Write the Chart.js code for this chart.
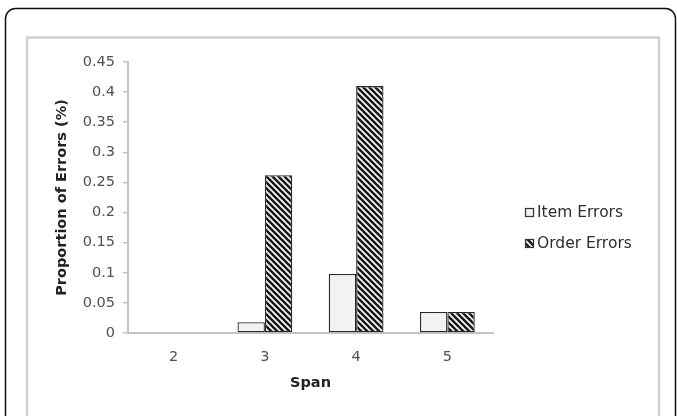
<!DOCTYPE html>
<html>
<head>
<meta charset="utf-8">
<script src="https://cdn.jsdelivr.net/npm/chart.js@4"></script>
<style>
  html, body { margin: 0; padding: 0; background: #fff; }
  #wrap { width: 677px; height: 416px; }
</style>
</head>
<body>
<div id="wrap"><canvas id="chart" width="677" height="416"></canvas></div>
<script>
const categories = ["2", "3", "4", "5"];
const itemErrors = [0, 0.018, 0.098, 0.035];
const orderErrors = [0, 0.262, 0.41, 0.035];
const yTicks = ["0", "0.05", "0.1", "0.15", "0.2", "0.25", "0.3", "0.35", "0.4", "0.45"];
const seriesNames = ["Item Errors", "Order Errors"];

const fontFamily = "'DejaVu Sans', sans-serif";

// diagonal hatch like the excel pattern fill
function makeHatch() {
  const s = 6;
  const c = document.createElement("canvas");
  c.width = s;
  c.height = s;
  const g = c.getContext("2d");
  g.fillStyle = "#ffffff";
  g.fillRect(0, 0, s, s);
  g.strokeStyle = "#1a1a1a";
  g.lineWidth = 2.6;
  g.beginPath();
  for (const off of [-s, 0, s]) {
    g.moveTo(off - 1, -1);
    g.lineTo(off + s + 1, s + 1);
  }
  g.stroke();
  return g.createPattern(c, "repeat");
}

// outer rounded frame + grey inner frame
const framePlugin = {
  id: "frame",
  beforeDraw(chart) {
    const ctx = chart.ctx;
    ctx.save();
    ctx.fillStyle = "#ffffff";
    ctx.fillRect(0, 0, chart.width, chart.height);
    ctx.strokeStyle = "#111111";
    ctx.lineWidth = 1.5;
    ctx.beginPath();
    ctx.roundRect(5.5, 8.5, 670, 430, 10);
    ctx.stroke();
    ctx.strokeStyle = "#d0d0d0";
    ctx.lineWidth = 2.5;
    ctx.strokeRect(27, 37.5, 632, 420);
    ctx.restore();
  }
};

// legend on the right, drawn from the datasets
const sideLegend = {
  id: "sideLegend",
  afterDraw(chart) {
    const ctx = chart.ctx;
    ctx.save();
    ctx.font = "15.5px " + fontFamily;
    ctx.textBaseline = "middle";
    chart.data.datasets.forEach((ds, i) => {
      const y = 212 + i * 31;
      ctx.fillStyle = ds.backgroundColor;
      ctx.fillRect(525, y - 4, 9, 9);
      ctx.strokeStyle = "#333333";
      ctx.lineWidth = 1.2;
      ctx.strokeRect(525.5, y - 3.5, 8, 8);
      ctx.fillStyle = "#2e2e2e";
      ctx.fillText(ds.label, 537, y + 1);
    });
    ctx.restore();
  }
};

new Chart(document.getElementById("chart"), {
  type: "bar",
  data: {
    labels: categories,
    datasets: [
      {
        label: seriesNames[0],
        data: itemErrors,
        backgroundColor: "#f2f2f2",
        borderColor: "#2a2a2a",
        borderWidth: 1.3,
        borderSkipped: false
      },
      {
        label: seriesNames[1],
        data: orderErrors,
        backgroundColor: makeHatch(),
        borderColor: "#2a2a2a",
        borderWidth: 1.3,
        borderSkipped: false
      }
    ]
  },
  options: {
    responsive: false,
    animation: false,
    devicePixelRatio: 1,
    categoryPercentage: 0.6,
    barPercentage: 1.0,
    layout: { padding: { left: 28, right: 184, top: 62, bottom: 20 } },
    plugins: {
      legend: { display: false },
      tooltip: { enabled: false }
    },
    scales: {
      x: {
        offset: true,
        grid: { display: true, drawOnChartArea: false, drawTicks: false },
        border: { color: "#c4c4c4", width: 2 },
        ticks: {
          color: "#505050",
          font: { family: fontFamily, size: 14.5 },
          padding: 16
        },
        title: {
          display: true,
          text: "Span",
          color: "#222222",
          font: { family: fontFamily, size: 14.5, weight: "bold" },
          padding: { top: 0, bottom: 4 }
        },
        afterFit(scale) { scale.height = 63; }
      },
      y: {
        min: 0,
        max: 0.45,
        ticks: {
          stepSize: 0.05,
          color: "#505050",
          font: { family: fontFamily, size: 14.5 },
          padding: 8,
          callback: (v, i) => yTicks[i]
        },
        grid: { drawOnChartArea: false, tickLength: 5, color: "#c4c4c4", lineWidth: 1.5 },
        border: { color: "#c4c4c4", width: 2 },
        title: {
          display: true,
          text: "Proportion of Errors (%)",
          color: "#222222",
          font: { family: fontFamily, size: 14.5, weight: "bold" },
          padding: { top: 26, bottom: 0 }
        },
        afterFit(scale) { scale.width = 100; }
      }
    }
  },
  plugins: [framePlugin, sideLegend]
});
</script>
</body>
</html>
